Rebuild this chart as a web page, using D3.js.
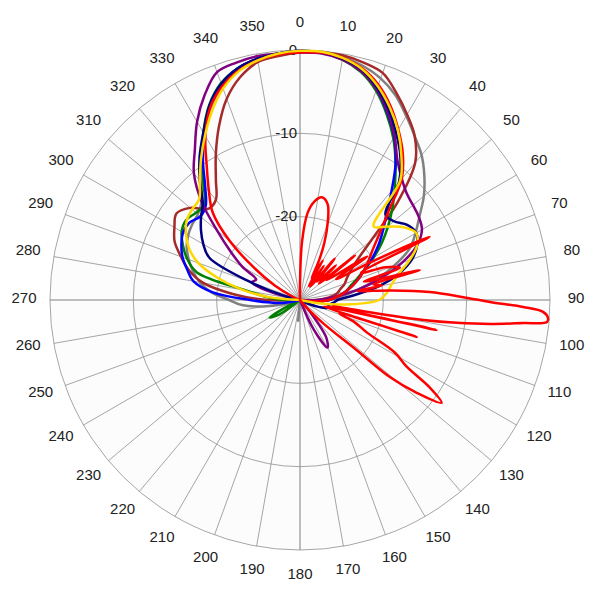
<!DOCTYPE html>
<html><head><meta charset="utf-8">
<script src="https://cdn.jsdelivr.net/npm/d3@7"></script>
<style>body{margin:0;background:#fff}</style>
</head><body><svg id="c" width="600" height="600"></svg>
<script>
// angle grid (degrees) and radial ticks (dB)
const angleTicks = d3.range(0, 360, 10);
const radialTicks = [0, -10, -20];
const dbMin = -30, dbMax = 0;
// 5-degree sampling for the main-beam-up patterns
const grid5 = d3.range(0, 360, 5);

const greenDb = [
 -0.2,-0.2,-0.7,-1.7,-3.3,-5.4,-7.6,-10,-12.3,-14.3,-16.2,-18,
 -19.8,-21.5,-22.8,-23.8,-24.5,-25.5,-26.5,-28,-30,-30,-30,-30,
 -30,-30,-30,-30,-30,-30,-30,-30,-30,-30,-30,-30,
 -30,-30,-30,-30,-30,-30,-30,-30,-30,-30,-30,-27,
 -25.8,-29,-30,-30,-30,-30,-28,-26,-23.5,-17.2,-15.6,-14.5,
 -13.6,-13.3,-13.7,-13.8,-12,-9.5,-6.8,-4.2,-2.3,-1.2,-0.6,-0.3];
const blueDb = [
 -0.1,-0.2,-0.6,-1.5,-3.1,-5.2,-7.4,-10,-12.9,-15.3,-17,-18.5,
 -20,-21.5,-22.5,-23.5,-24.5,-25.5,-26.5,-28,-30,-30,-30,-30,
 -30,-30,-30,-30,-30,-30,-30,-30,-30,-30,-30,-30,
 -30,-30,-30,-30,-30,-30,-30,-30,-30,-30,-30,-30,
 -30,-30,-30,-30,-28,-26.5,-24,-19.5,-17,-16,-15,-14.3,
 -13.8,-13.8,-14.4,-14,-12.3,-9.7,-7,-4.3,-2.4,-1.2,-0.6,-0.3];
const navyDb = [
 -0.1,-0.2,-0.6,-1.4,-2.9,-4.8,-6.9,-9,-11.5,-15.5,-15.3,-14.3,
 -13.9,-14.5,-15.7,-17.7,-20.3,-23.5,-25.5,-26,-26.5,-26.5,-27.5,-29,
 -30,-30,-30,-30,-30,-30,-30,-30,-30,-30,-30,-30,
 -30,-30,-30,-30,-30,-30,-30,-30,-30,-30,-30,-30,
 -30,-30,-30,-30,-30,-30,-30,-30,-30,-28,-23.5,-18,
 -16.6,-15.5,-14.5,-13.5,-11.3,-9,-6.8,-4.3,-2.4,-1.2,-0.6,-0.3];
const goldDb = [
 -0.1,-0.1,-0.5,-1.3,-2.7,-4.5,-6.5,-8.8,-11.3,-17.5,-16.3,-14.8,
 -13.9,-14.5,-16,-17.7,-18.8,-19.5,-20.5,-24,-28,-30,-30,-30,
 -30,-30,-30,-30,-30,-30,-30,-30,-30,-30,-30,-30,
 -30,-30,-30,-30,-30,-30,-30,-30,-30,-30,-30,-30,
 -30,-30,-30,-30,-30,-30,-30,-26.4,-23,-19.8,-17,-15.3,
 -14.2,-13.4,-13.1,-12.9,-11.3,-9.3,-7.2,-5,-3,-1.6,-0.8,-0.3];
const redDb = [
 -0.3,-0.2,-0.5,-1.2,-2.5,-4.3,-6.4,-8.5,-11,-15,-17.5,-19.3,
 -20.5,-21.5,-22.5,-23.5,-24.5,-25.5,-26.5,-28,-30,-30,-30,-30,
 -30,-30,-30,-30,-30,-30,-30,-30,-30,-30,-30,-30,
 -30,-30,-30,-30,-30,-30,-30,-30,-30,-30,-30,-30,
 -30,-30,-30,-30,-30,-30,-30,-30,-30,-30,-30,-29,
 -26.5,-23.3,-19,-15.2,-13,-10.5,-7.3,-4.5,-2.7,-1.5,-0.8,-0.4];
const purpleDb = [
 -0.3,-0.3,-0.7,-1.6,-3.1,-5.1,-7.3,-9.6,-11,-11.9,-12.3,-12.6,
 -13.1,-14.5,-17,-20,-23,-26,-28,-30,-30,-30,-30,-30,
 -30,-30,-30,-30,-28,-24.5,-23.4,-26,-30,-30,-30,-30,
 -30,-30,-30,-30,-30,-30,-30,-30,-30,-30,-30,-30,
 -30,-30,-30,-30,-30,-30,-30,-30,-30,-26.5,-23.8,-24.2,
 -22,-19.8,-17,-13.3,-10.2,-8,-5.3,-2.9,-0.9,-0.5,-0.3,-0.3];
const grayDb = [
 -0.2,-0.1,-0.4,-0.9,-1.7,-2.9,-4.5,-6,-7.3,-8.9,-10.6,-12.5,
 -14,-15.5,-18,-20.5,-23,-25,-26.5,-28,-30,-30,-30,-30,
 -30,-30,-30,-30,-30,-30,-30,-30,-30,-30,-30,-30,
 -30,-27.5,-30,-30,-30,-30,-30,-30,-30,-30,-30,-30,
 -30,-30,-30,-28,-25.5,-23,-21.5,-19.3,-17.8,-16.7,-15.8,-15,
 -14.5,-14.2,-14,-13.3,-11.6,-9.3,-6.9,-4.6,-2.7,-1.4,-0.7,-0.3];
const brownDb = [
 -0.3,-0.2,-0.2,-0.5,-1.0,-2.6,-4.3,-6,-8.5,-13.5,-18.8,-21.6,
 -23,-23.8,-24.3,-25,-25.5,-26.5,-28,-30,-30,-30,-30,-30,
 -30,-30,-30,-30,-30,-30,-30,-30,-30,-30,-30,-30,
 -30,-30,-30,-30,-30,-30,-30,-30,-30,-30,-30,-30,
 -30,-30,-30,-30,-30,-30,-26,-22,-18.2,-16.2,-14.8,-13.4,
 -12.6,-11.9,-12.8,-14.5,-14.3,-12.4,-9.8,-7,-4.3,-2.3,-1.0,-0.6];

// second red pattern (main beam toward ~94 deg)
const red2Angles = [0,2,5,8.5,12,16,19.5,23,26,28,30,32,35,37,40,43,46,49,51,53,57,60,62,64,66,69,72,74,76,78,80,81,84,86.5,89,90.6,91.8,92.8,94.2,95.1,95.9,97.2,98.3,99.2,100,101,102.4,103.5,105,107.5,109,112,116,119,122,124,126,128.5,130.6,131.5,135,140,150,200,250,300,340,355];
const red2Db = [-28,-23,-19.5,-18,-17.4,-18,-20,-22.5,-25,-27,-24.5,-28,-25,-28,-23.5,-27,-24,-27,-21.5,-26,-20.4,-25,-20,-12.7,-22,-19,-17.4,-22,-15.2,-21,-20,-23,-19,-14.4,-10.4,-7.2,-3.2,-0.8,-0.15,-0.25,-3.1,-7,-11,-15,-21.5,-26,-13.2,-26,-27,-15.3,-25,-23,-21,-17,-14.9,-11.2,-9,-12.1,-15.8,-21,-26,-29,-30,-30,-30,-30,-30,-30];

const seriesOrder = [
  {name:"gray",   color:"#808080", angles:grid5, db:grayDb},
  {name:"brown",  color:"#a52a2a", angles:grid5, db:brownDb},
  {name:"green",  color:"#008000", angles:grid5, db:greenDb},
  {name:"blue",   color:"#0000ff", angles:grid5, db:blueDb},
  {name:"purple", color:"#800080", angles:grid5, db:purpleDb},
  {name:"navy",   color:"#000080", angles:grid5, db:navyDb},
  {name:"red",    color:"#ff0000", angles:grid5, db:redDb},
  {name:"gold",   color:"#ffd700", angles:grid5, db:goldDb},
  {name:"red2",   color:"#ff0000", angles:red2Angles, db:red2Db}
];

const cx = 300, cy = 300, R = 250;
const svg = d3.select("#c");
const g = svg.append("g").attr("transform", `translate(${cx},${cy})`);
const r = d3.scaleLinear().domain([dbMin, dbMax]).range([0, R]).clamp(true);
const rad = a => a * Math.PI / 180;
const font = "'Liberation Sans', Arial, sans-serif";

g.append("circle").attr("r", R).attr("fill", "#fcfcfc").attr("stroke", "none");

// spokes
g.selectAll("line.spoke").data(angleTicks).join("line")
  .attr("x1", 0).attr("y1", 0)
  .attr("x2", d => R * Math.sin(rad(d)))
  .attr("y2", d => -R * Math.cos(rad(d)))
  .attr("stroke", d => d % 90 === 0 ? "#bdbdbd" : "#8f8f8f")
  .attr("stroke-width", d => d % 90 === 0 ? 2 : 0.8);

// rings
g.selectAll("circle.ring").data(radialTicks).join("circle")
  .attr("r", d => r(d)).attr("fill", "none")
  .attr("stroke", "#8f8f8f").attr("stroke-width", 0.8);

// radial labels
g.selectAll("text.rl").data(radialTicks).join("text")
  .attr("x", -3).attr("y", d => -r(d) - 1)
  .attr("text-anchor", "end").attr("dominant-baseline", "central")
  .attr("font-family", font).attr("font-size", 15).attr("fill", "#222")
  .text(d => d);

// angle labels
g.selectAll("text.al").data(angleTicks).join("text")
  .attr("x", d => 276 * Math.sin(rad(d)))
  .attr("y", d => -276 * Math.cos(rad(d)) - 3)
  .attr("text-anchor", "middle").attr("dominant-baseline", "central")
  .attr("font-family", font).attr("font-size", 15).attr("fill", "#222")
  .text(d => d);

const line = d3.lineRadial()
  .angle(d => rad(d[0]))
  .radius(d => r(d[1]))
  .curve(d3.curveCatmullRomClosed.alpha(0.5));

g.selectAll("path.series").data(seriesOrder).join("path")
  .attr("d", s => line(s.angles.map((a, i) => [a, s.db[i]])))
  .attr("fill", "none")
  .attr("stroke", s => s.color)
  .attr("stroke-width", 2.5)
  .attr("stroke-linejoin", "round");
</script>
</body></html>
